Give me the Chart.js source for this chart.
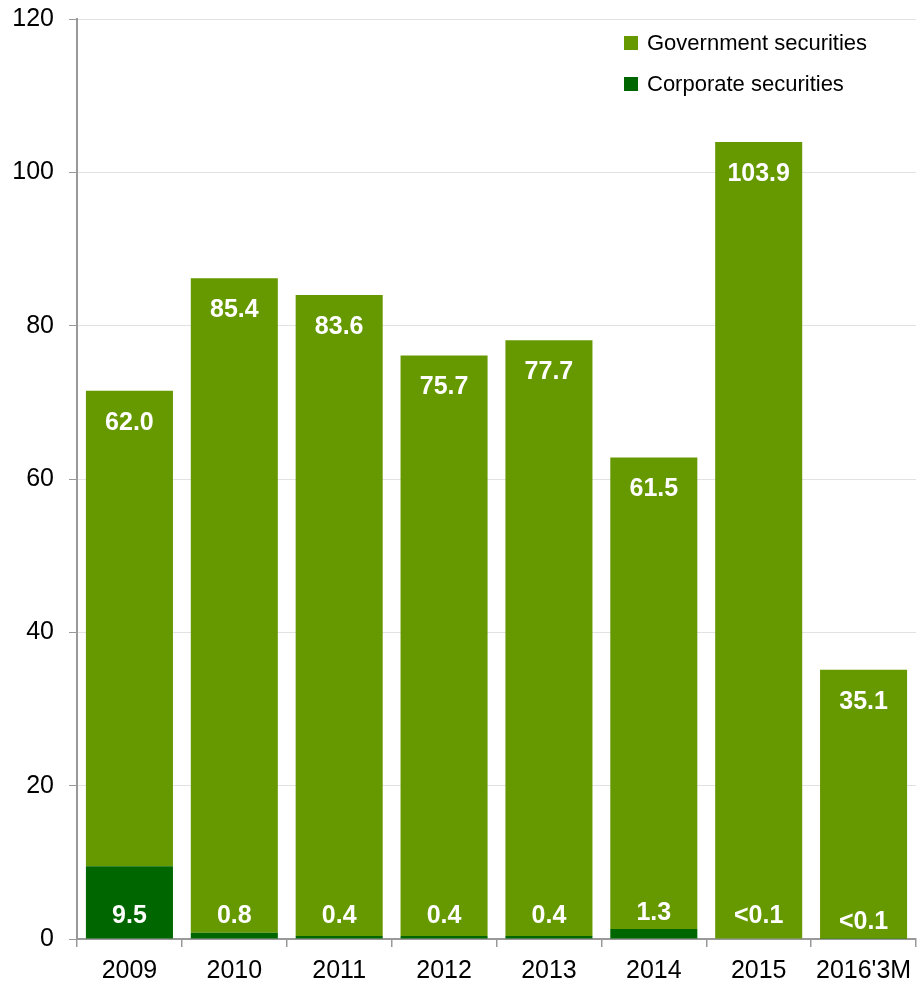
<!DOCTYPE html>
<html>
<head>
<meta charset="utf-8">
<script src="https://cdn.jsdelivr.net/npm/chart.js@4/dist/chart.umd.min.js"></script>
<style>
  html, body { margin: 0; padding: 0; background: #fff; }
  #wrap { width: 918px; height: 987px; position: relative; }
</style>
</head>
<body>
<div id="wrap"><canvas id="chart"></canvas></div>
<script>
// data
const years = ['2009', '2010', '2011', '2012', '2013', '2014', '2015', "2016'3M"];
const corporate = [9.5, 0.8, 0.4, 0.4, 0.4, 1.3, 0.05, 0.02];
const government = [62.0, 85.4, 83.6, 75.7, 77.7, 61.5, 103.9, 35.1];
const corpLabels = ['9.5', '0.8', '0.4', '0.4', '0.4', '1.3', '<0.1', '<0.1'];
const govLabels = ['62.0', '85.4', '83.6', '75.7', '77.7', '61.5', '103.9', '35.1'];
const yTicks = [0, 20, 40, 60, 80, 100, 120];

const GOV = '#669900', CORP = '#006600';
const FONT = '"Liberation Sans", Arial, sans-serif';

// white bold value labels inside the bars + the stacked legend box
const barLabels = {
  id: 'barLabels',
  afterDatasetsDraw(chart) {
    const ctx = chart.ctx;
    const base = chart.scales.y.getPixelForValue(0);
    ctx.save();
    ctx.fillStyle = '#fff';
    ctx.font = 'bold 25px ' + FONT;
    ctx.textAlign = 'center';
    ctx.textBaseline = 'middle';
    chart.getDatasetMeta(1).data.forEach((bar, i) => {
      ctx.fillText(govLabels[i], bar.x, bar.y + 32);
    });
    chart.getDatasetMeta(0).data.forEach((bar, i) => {
      const off = i === 7 ? 17 : (i === 5 ? 26 : 23);
      ctx.fillText(corpLabels[i], bar.x, base - off);
    });

    // legend
    const items = [['Government securities', GOV], ['Corporate securities', CORP]];
    ctx.font = '22px ' + FONT;
    ctx.textAlign = 'left';
    items.forEach((it, k) => {
      const cy = 43 + k * 41;
      ctx.fillStyle = it[1];
      ctx.fillRect(624, cy - 7, 14, 14);
      ctx.fillStyle = '#000';
      ctx.fillText(it[0], 647, cy + 1);
    });
    ctx.restore();
  }
};

new Chart(document.getElementById('chart'), {
  type: 'bar',
  data: {
    labels: years,
    datasets: [
      { label: 'Corporate securities', data: corporate, backgroundColor: CORP },
      { label: 'Government securities', data: government, backgroundColor: GOV }
    ]
  },
  options: {
    responsive: true, maintainAspectRatio: false, animation: false,
    layout: { padding: { top: 19, right: 2, bottom: 0, left: 0 } },
    datasets: { bar: { barPercentage: 0.83, categoryPercentage: 1 } },
    plugins: { legend: { display: false }, tooltip: { enabled: false } },
    scales: {
      x: {
        stacked: true,
        afterFit: ax => { ax.height = 48; ax.paddingLeft = 0; ax.paddingRight = 0; },
        grid: { offset: true, drawOnChartArea: false, color: '#999', tickLength: 8, lineWidth: 1.5 },
        border: { color: '#999', width: 2 },
        ticks: { color: '#000', font: { family: FONT, size: 25 }, padding: 9, maxRotation: 0 }
      },
      y: {
        stacked: true, min: 0, max: 120,
        afterBuildTicks: ax => { ax.ticks = yTicks.map(v => ({ value: v })); },
        afterFit: ax => { ax.width = 77; ax.paddingTop = 0; ax.paddingBottom = 0; },
        grid: { color: '#e2e2e2', tickColor: '#999', tickLength: 8, lineWidth: 1 },
        border: { color: '#999', width: 2 },
        ticks: { color: '#000', font: { family: FONT, size: 25 }, padding: 15 }
      }
    }
  },
  plugins: [barLabels]
});
</script>
</body>
</html>
